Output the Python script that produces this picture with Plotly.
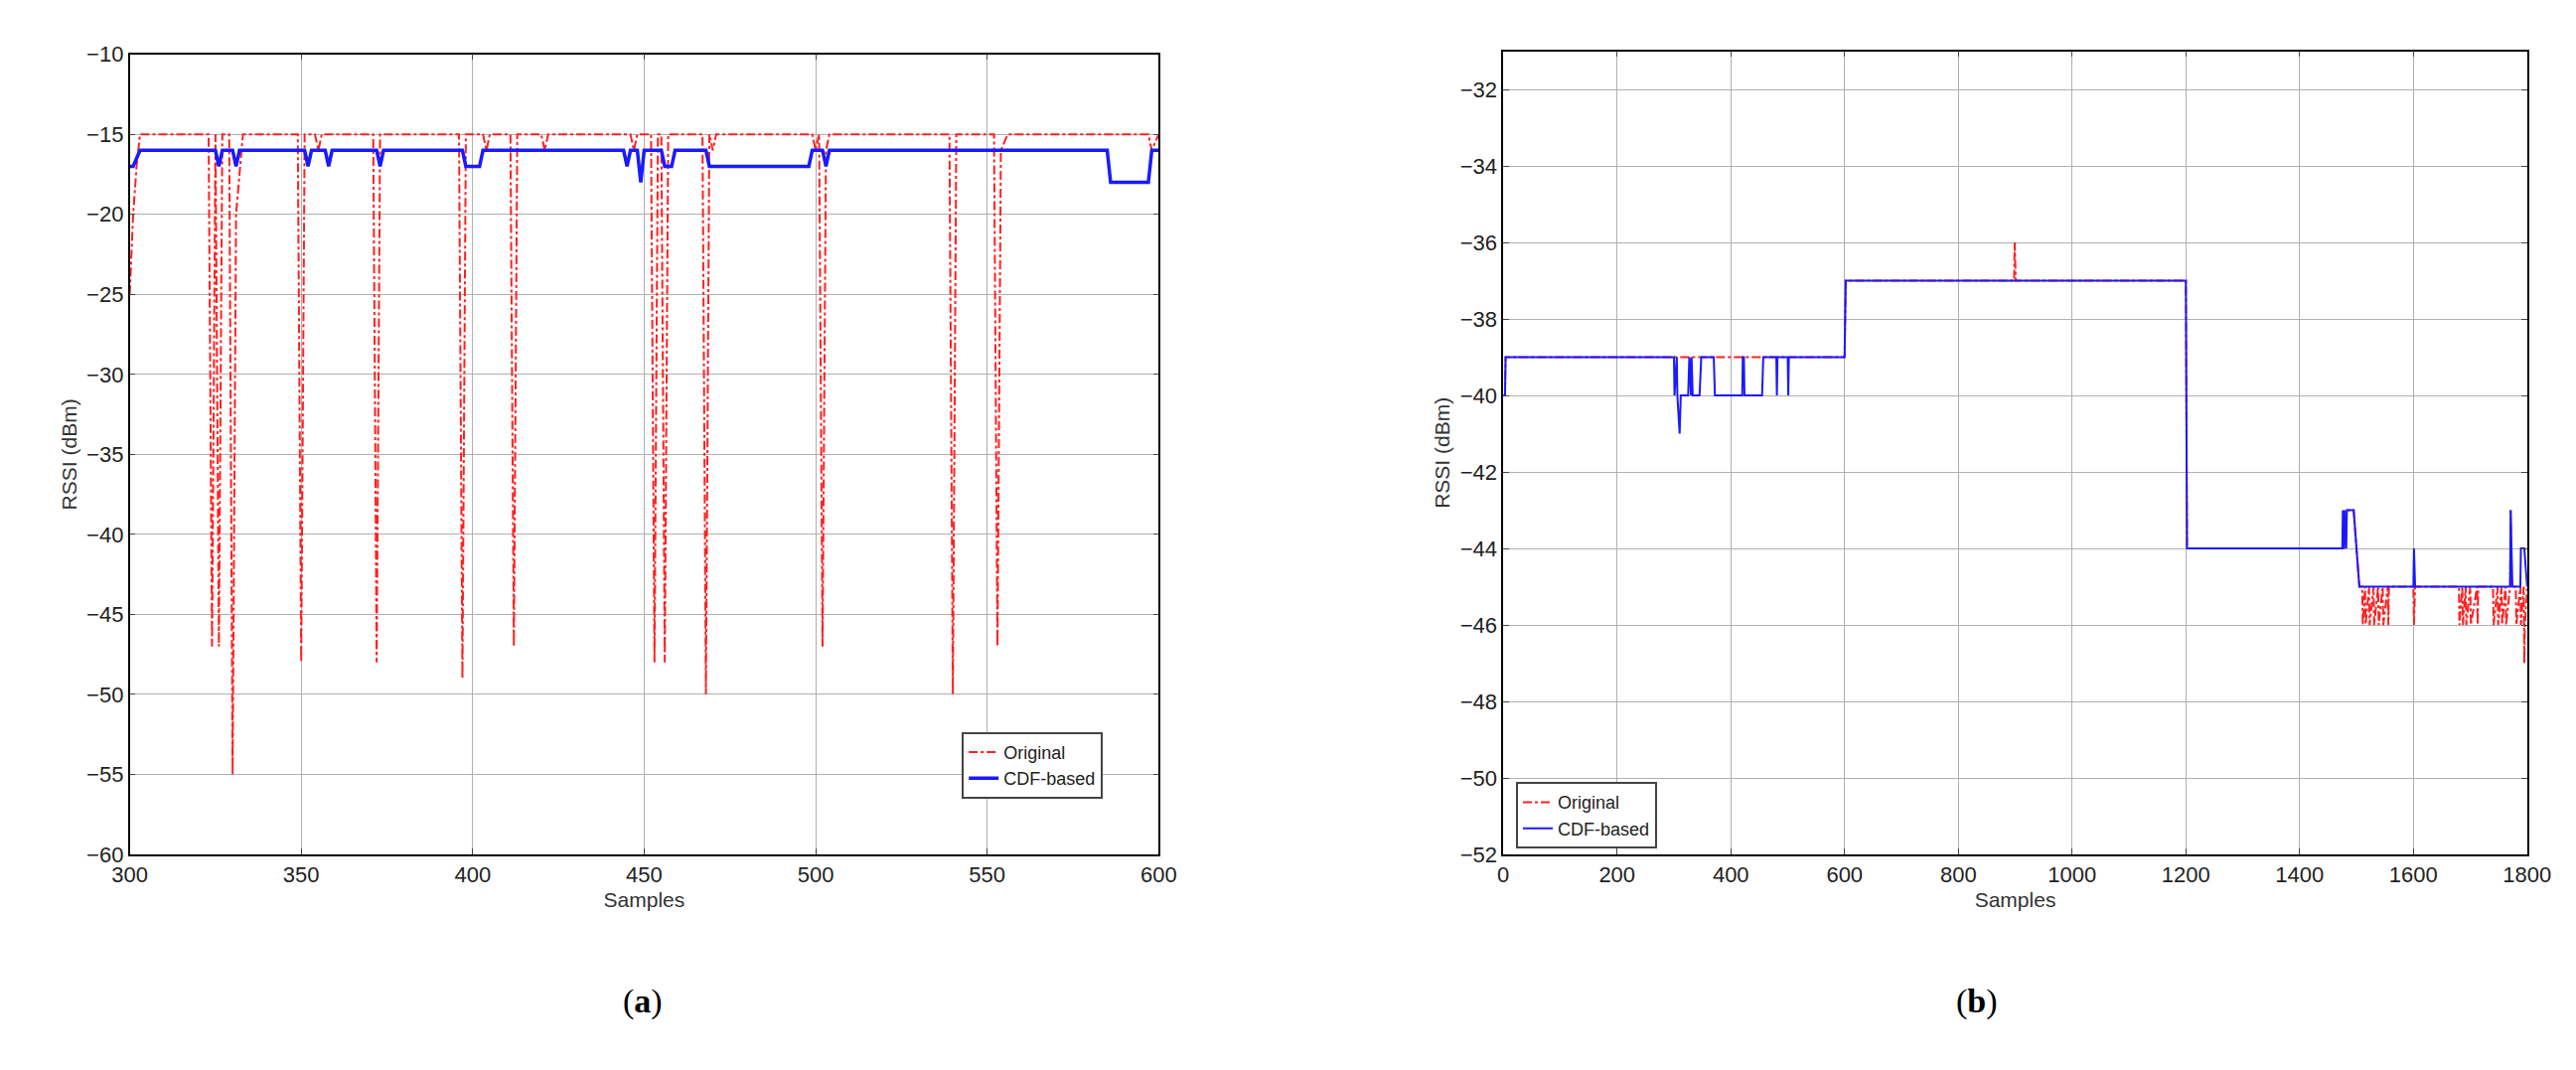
import plotly.graph_objects as go

# --- panel (a): samples 300..600 ---------------------------------------
a_orig_x = [300, 301, 302, 303, 323, 324, 325, 326, 327, 329, 330, 331, 333, 349, 350, 351,
            354, 355, 356, 371, 372, 373, 396, 397, 398, 403, 404, 405, 411, 412, 413, 420, 421,
            422, 446, 447, 448, 452, 453, 454, 455, 456, 457, 467, 468, 469, 470, 471,
            499, 500, 501, 502, 503, 504, 539, 540, 541, 552, 553, 554, 556, 597, 598, 600]
a_orig_y = [-25, -20, -17, -15, -15, -47, -15, -47, -15, -15, -55, -20, -15, -15, -48, -15,
            -15, -16, -15, -15, -48, -15, -15, -49, -15, -15, -16, -15, -15, -47, -15, -15, -16,
            -15, -15, -16, -15, -15, -48, -15, -15, -48, -15, -15, -50, -15, -16, -15,
            -15, -16, -15, -47, -16, -15, -15, -50, -15, -15, -47, -16, -15, -15, -16, -15]

a_cdf_x = [300, 301, 303, 325, 326, 327, 330, 331, 332, 351, 352, 353, 357, 358, 359,
           372, 373, 374, 397, 398, 402, 403, 444, 445, 446, 448, 449, 450, 455, 456, 458, 459,
           468, 469, 498, 499, 502, 503, 504, 585, 586, 597, 598, 600]
a_cdf_y = [-17, -17, -16, -16, -17, -16, -16, -17, -16, -16, -17, -16, -16, -17, -16,
           -16, -17, -16, -16, -17, -17, -16, -16, -17, -16, -16, -18, -16, -16, -17, -17, -16,
           -16, -17, -17, -16, -16, -17, -16, -16, -18, -18, -16, -16]

# --- panel (b): samples 0..1800 -----------------------------------------
b_cdf_x = [0, 3, 4, 300, 301, 305, 306, 310, 312, 315, 325, 327, 330, 331, 333, 345, 348,
           370, 372, 420, 421, 423, 424, 455, 457, 480, 481, 482, 500, 501, 502, 600, 602,
           1200, 1202, 1475, 1476, 1478, 1479, 1482, 1483, 1495, 1505, 1600, 1601, 1603,
           1770, 1771, 1773, 1774, 1788, 1789, 1795, 1800]
b_cdf_y = [-40, -40, -39, -39, -40, -39, -40, -41, -40, -40, -40, -39, -40, -39, -40, -40, -39,
           -39, -40, -40, -39, -39, -40, -40, -39, -39, -40, -39, -39, -40, -39, -39, -37,
           -37, -44, -44, -43, -44, -43, -44, -43, -43, -45, -45, -44, -45,
           -45, -43, -45, -45, -45, -44, -44, -45]

b_orig_x = [0, 3, 4, 600, 602, 898, 899, 900, 901, 1200, 1202, 1478, 1480, 1495, 1505,
            1510, 1511, 1515, 1516, 1522, 1523, 1530, 1531, 1538, 1539, 1546, 1547, 1555, 1556,
            1557, 1600, 1601, 1603, 1680, 1681, 1686, 1687, 1692, 1693, 1700, 1701, 1712, 1713,
            1714, 1740, 1741, 1748, 1749, 1755, 1756, 1762, 1763, 1770, 1771, 1773, 1780, 1781,
            1788, 1789, 1794, 1795, 1796, 1800]
b_orig_y = [-40, -40, -39, -39, -37, -37, -36, -37, -37, -37, -44, -44, -43, -43, -45,
            -45, -46, -45, -46, -45, -46, -45, -46, -45, -46, -45, -46, -45, -46,
            -45, -45, -46, -45, -45, -46, -45, -46, -45, -46, -45, -46, -45, -46,
            -45, -45, -46, -45, -46, -45, -46, -45, -46, -45, -43, -45, -45, -46,
            -45, -46, -45, -47, -46, -45]

RED, BLUE = "#ff2020", "#1a1aff"
FONT = "Liberation Sans"
TXT = "#333"

fig = go.Figure()
fig.add_trace(go.Scatter(x=a_orig_x, y=a_orig_y, mode="lines", name="Original",
                         line=dict(color=RED, width=2, dash="dashdot"),
                         xaxis="x", yaxis="y", legend="legend"))
fig.add_trace(go.Scatter(x=a_cdf_x, y=a_cdf_y, mode="lines", name="CDF-based",
                         line=dict(color=BLUE, width=3.5),
                         xaxis="x", yaxis="y", legend="legend"))
fig.add_trace(go.Scatter(x=b_orig_x, y=b_orig_y, mode="lines", name="Original",
                         line=dict(color=RED, width=2, dash="dashdot"),
                         xaxis="x2", yaxis="y2", legend="legend2"))
fig.add_trace(go.Scatter(x=b_cdf_x, y=b_cdf_y, mode="lines", name="CDF-based",
                         line=dict(color=BLUE, width=2),
                         xaxis="x2", yaxis="y2", legend="legend2"))

axis_style = dict(showgrid=True, gridcolor="#b0b0b0", gridwidth=1, showline=True,
                  linecolor="black", linewidth=1.5, mirror="ticks", ticks="inside",
                  ticklen=6, zeroline=False, tickfont=dict(size=22, family=FONT, color="#222"))
title_font = dict(size=21, color=TXT)

fig.update_layout(
    width=2593, height=1077, plot_bgcolor="white", paper_bgcolor="white",
    margin=dict(l=0, r=0, t=0, b=0), font=dict(family=FONT),
    xaxis=dict(domain=[0.041, 0.447], range=[300, 600], dtick=50, anchor="y",
               title=dict(text="Samples", font=title_font, standoff=6), **axis_style),
    yaxis=dict(domain=[0.2015, 0.967], range=[-60, -10], dtick=5, anchor="x",
               tickformat="d", title=dict(text="RSSI (dBm)", font=title_font, standoff=4),
               **axis_style),
    xaxis2=dict(domain=[0.583, 0.987], range=[0, 1800], dtick=200, anchor="y2",
                title=dict(text="Samples", font=title_font, standoff=6), **axis_style),
    yaxis2=dict(domain=[0.2015, 0.970], range=[-52, -31], tickvals=list(range(-52, -31, 2)),
                anchor="x2", title=dict(text="RSSI (dBm)", font=title_font, standoff=4),
                **axis_style),
    legend=dict(x=0.425, y=0.255, xanchor="right", yanchor="bottom", bgcolor="white",
                bordercolor="#444", borderwidth=2, font=dict(size=18, color="#222")),
    legend2=dict(x=0.588, y=0.207, xanchor="left", yanchor="bottom", bgcolor="white",
                 bordercolor="#444", borderwidth=2, font=dict(size=18, color="#222")),
    annotations=[
        dict(text="(<b>a</b>)", x=0.235, y=1 - 1033 / 1077, xref="paper", yref="paper",
             showarrow=False, font=dict(size=34, family="Liberation Serif", color="black")),
        dict(text="(<b>b</b>)", x=0.779, y=1 - 1033 / 1077, xref="paper", yref="paper",
             showarrow=False, font=dict(size=34, family="Liberation Serif", color="black")),
    ],
)

fig.write_html("out.html")
